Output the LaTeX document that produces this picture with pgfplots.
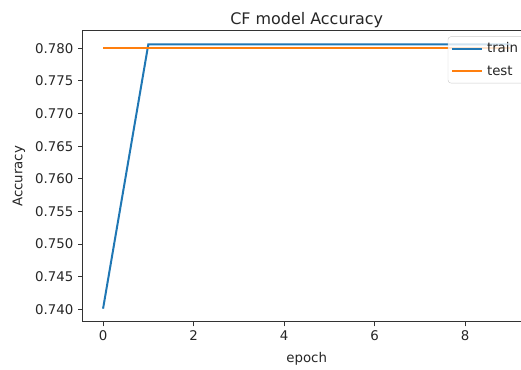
\documentclass[border=0pt]{standalone}
\usepackage{fontspec}
\setmainfont{DejaVu Sans}
\usepackage{pgfplots}
\pgfplotsset{compat=1.18}
\definecolor{tabblue}{HTML}{1F77B4}
\definecolor{taborange}{HTML}{FF7F0E}
\definecolor{txt}{HTML}{262626}
\begin{document}
\fontsize{13.4}{16}\selectfont
\begin{tikzpicture}[x=1bp,y=1bp]
\begin{scope}
\clip (0,0) rectangle (521,369);
\begin{axis}[
  at={(82.7bp,47.3bp)}, anchor=south west,
  scale only axis, width=448bp, height=290.7bp,
  xmin=-0.45, xmax=9.45, ymin=0.7381, ymax=0.78265,
  axis line style={line width=1bp, black!80},
  xtick={0,2,4,6,8},
  ytick={0.740,0.745,0.750,0.755,0.760,0.765,0.770,0.775,0.780},
  yticklabel style={/pgf/number format/.cd, fixed, fixed zerofill, precision=3, assume math mode=true},
  xticklabel style={/pgf/number format/assume math mode=true},
  tick align=outside, major tick length=4.7bp,
  tick style={line width=1bp, black!80},
  xtick pos=bottom, ytick pos=left,
  ticklabel style={font=\fontsize{13.4}{16}\selectfont, text=txt},
  title={CF model Accuracy},
  title style={at={(0.5,1)}, anchor=base, yshift=1bp, font=\fontsize{16}{19}\selectfont, text=txt},
  xlabel={epoch},
  xlabel style={at={(0.5,0)}, anchor=base, yshift=-41bp, font=\fontsize{13.4}{16}\selectfont, text=txt},
  ylabel={Accuracy},
  ylabel style={at={(0,0.5)}, anchor=center, yshift=63.7bp, font=\fontsize{13.4}{16}\selectfont, text=txt},
  legend style={at={(1,1)}, anchor=north east, xshift=-5.4bp, yshift=-5.4bp,
    draw=black!20, fill=white, fill opacity=0.8, text opacity=1, rounded corners=3bp,
    font=\fontsize{13.4}{16}\selectfont, text=txt, inner xsep=3bp, inner ysep=4bp,
    row sep=7bp, nodes={inner xsep=4bp}},
  legend cell align=left,
  legend image code/.code={\draw[#1] (0bp,0bp) -- (30bp,0bp);},
]
\addplot[tabblue, line width=2bp] coordinates {(0,0.7401) (1,0.7806) (2,0.7806) (3,0.7806) (4,0.7806) (5,0.7806) (6,0.7806) (7,0.7806) (8,0.7806) (9,0.7806)};
\addlegendentry{train}
\addplot[taborange, line width=2bp] coordinates {(0,0.7800) (1,0.7800) (2,0.7800) (3,0.7800) (4,0.7800) (5,0.7800) (6,0.7800) (7,0.7800) (8,0.7800) (9,0.7800)};
\addlegendentry{test}
\end{axis}
\end{scope}
\pgfresetboundingbox
\useasboundingbox (0,0) rectangle (521,369);
\end{tikzpicture}
\end{document}
